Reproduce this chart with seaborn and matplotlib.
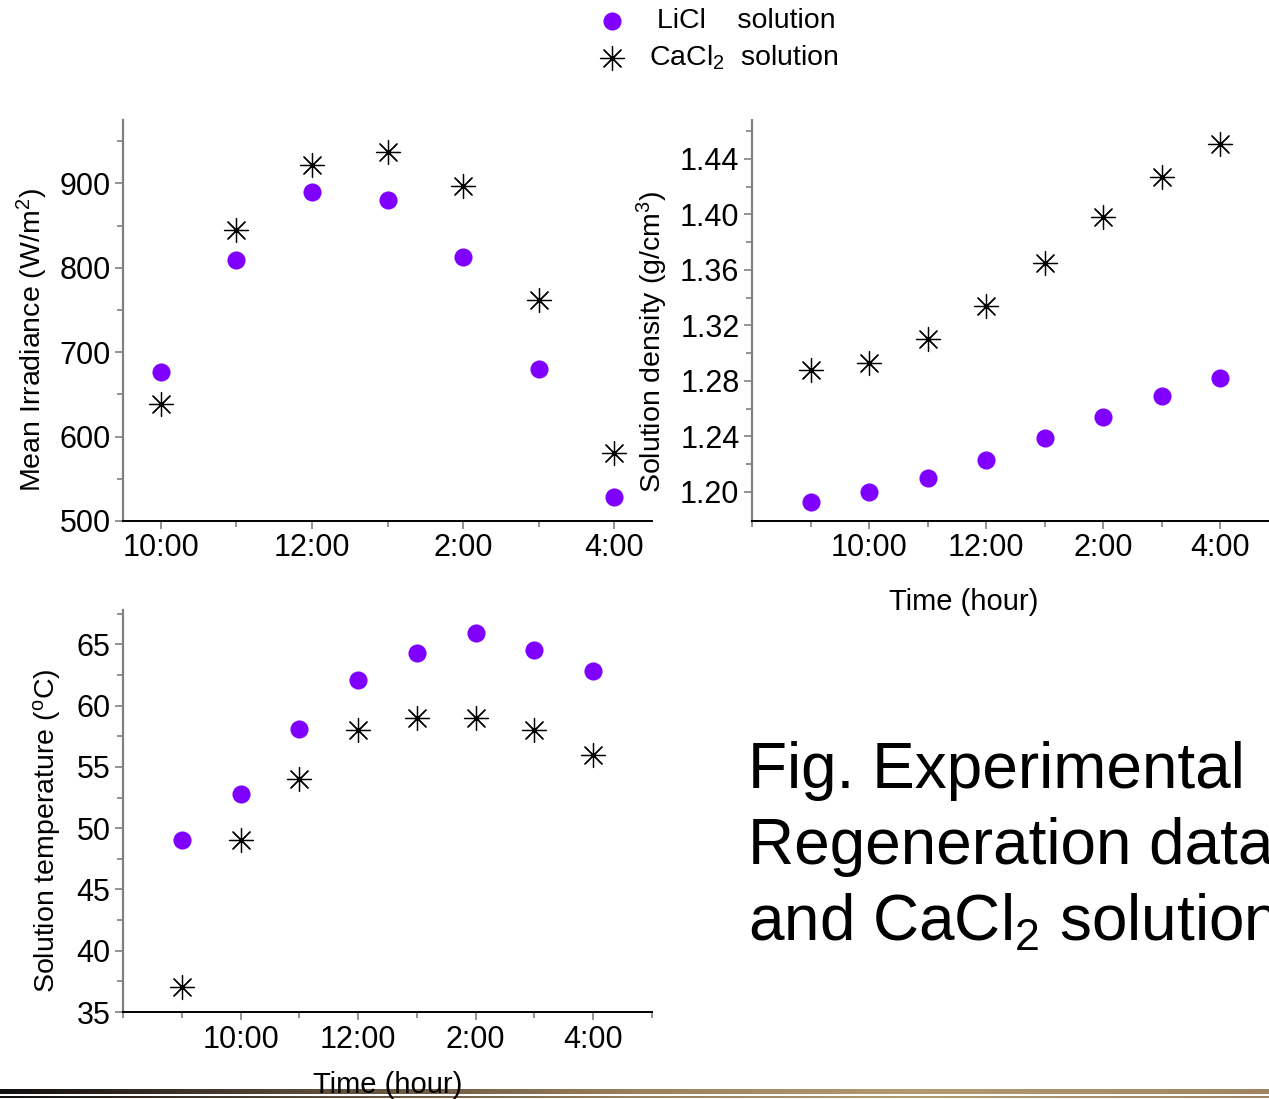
import numpy as np
import pandas as pd
import seaborn as sns
import matplotlib
matplotlib.use("Agg")
from matplotlib import pyplot as plt
from matplotlib import font_manager
from matplotlib.ticker import FixedLocator, MultipleLocator, FormatStrFormatter
from matplotlib.colors import LinearSegmentedColormap

# hours on a 24h clock, shown as 10:00 ... 4:00
irr_hours = [10, 11, 12, 13, 14, 15, 16]
irr_licl = [676, 809, 890, 880, 813, 680, 528]
irr_cacl2 = [639, 845, 922, 937, 897, 762, 580]

dens_hours = [9, 10, 11, 12, 13, 14, 15, 16]
dens_licl = [1.193, 1.200, 1.210, 1.223, 1.239, 1.254, 1.269, 1.282]
dens_cacl2 = [1.288, 1.293, 1.310, 1.334, 1.365, 1.398, 1.427, 1.451]

temp_hours = [9, 10, 11, 12, 13, 14, 15, 16]
temp_licl = [49.0, 52.8, 58.1, 62.1, 64.3, 65.9, 64.5, 62.8]
temp_cacl2 = [37, 49, 54, 58, 59, 59, 58, 56]

time_ticks = [10, 12, 14, 16]
time_labels = ["10:00", "12:00", "2:00", "4:00"]

purple = "#7f00ff"
asterisk = (8, 2, 0)

sns.set_theme(style="ticks")
plt.rcParams["font.family"] = ["Liberation Sans", "DejaVu Sans"]
plt.rcParams["mathtext.fontset"] = "custom"
plt.rcParams["mathtext.rm"] = "Liberation Sans"
plt.rcParams["mathtext.it"] = "Liberation Sans:italic"
for k in ["text.color", "axes.labelcolor", "xtick.color", "ytick.color"]:
    plt.rcParams[k] = "black"

# the original uses a condensed face for ticks; fall back to a smaller regular one
names = {f.name for f in font_manager.fontManager.ttflist}
if "Liberation Sans Narrow" in names:
    narrow, tick_size = ["Liberation Sans Narrow"], 25
else:
    narrow, tick_size = ["Liberation Sans"], 22

fig = plt.figure(figsize=(12.69, 10.99), dpi=100)
W, H = 1269, 1099


def px_axes(x0, y0, x1, y1):
    return fig.add_axes([x0 / W, 1 - y1 / H, (x1 - x0) / W, (y1 - y0) / H])


def draw(ax, hours, licl, cacl2):
    sns.scatterplot(x=hours, y=licl, ax=ax, color=purple, marker="o", s=170,
                    linewidth=0, label="LiCl", legend=False)
    sns.scatterplot(x=hours, y=cacl2, ax=ax, color="black", marker=asterisk, s=300,
                    linewidth=0.9, label="CaCl2", legend=False)


def style(ax, xlim, ylim, ymajor, yminor, xminor, fmt):
    ax.set_xlim(*xlim)
    ax.set_ylim(*ylim)
    for s in ["top", "right"]:
        ax.spines[s].set_visible(False)
    ax.spines["left"].set_color("#808080")
    ax.spines["left"].set_linewidth(1.6)
    ax.spines["bottom"].set_color("black")
    ax.spines["bottom"].set_linewidth(1.4)
    ax.xaxis.set_major_locator(FixedLocator(time_ticks))
    ax.set_xticklabels(time_labels)
    ax.xaxis.set_minor_locator(FixedLocator(xminor))
    ax.yaxis.set_major_locator(MultipleLocator(ymajor))
    ax.yaxis.set_major_formatter(FormatStrFormatter(fmt))
    ax.yaxis.set_minor_locator(FixedLocator(yminor))
    ax.tick_params(which="major", length=6, width=1.2, color="#808080", pad=3,
                   labelsize=tick_size, labelcolor="black")
    ax.tick_params(which="minor", length=4, width=1.2, color="#808080")
    ax.grid(False)
    ax.set_xlabel("")
    ax.set_ylabel("")


def fix_fonts(ax):
    for t in ax.get_xticklabels() + ax.get_yticklabels():
        t.set_family(narrow)


# top-left: irradiance
ax1 = px_axes(123, 120, 652, 521)
draw(ax1, irr_hours, irr_licl, irr_cacl2)
style(ax1, (9.5, 16.5), (500, 975), 100, np.arange(550, 1000, 100), [11, 13, 15], "%d")
ax1.set_ylabel(r"Mean Irradiance (W/m$\mathregular{^2}$)", fontsize=20.5,
               va="center", ha="center")
ax1.yaxis.set_label_coords((32 - 123) / 529, (521 - 340) / 401)

# top-right: density
ax2 = px_axes(752, 120, 1279, 521)
draw(ax2, dens_hours, dens_licl, dens_cacl2)
style(ax2, (8, 17), (1.179, 1.468), 0.04, np.arange(1.22, 1.47, 0.04),
      [8, 9, 11, 13, 15, 17], "%.2f")
ax2.set_ylabel(r"Solution density (g/cm$\mathregular{^3}$)", fontsize=20.5,
               va="center", ha="center")
ax2.yaxis.set_label_coords((652 - 752) / 527, (521 - 342) / 401)
ax2.set_xlabel("Time (hour)", fontsize=tick_size - 1, family=narrow, va="center")
ax2.xaxis.set_label_coords((964 - 752) / 527, (521 - 602) / 401)

# bottom-left: temperature
ax3 = px_axes(123, 610, 652, 1012)
draw(ax3, temp_hours, temp_licl, temp_cacl2)
style(ax3, (8, 17), (35, 67.8), 5, np.arange(37.5, 68, 5), [8, 9, 11, 13, 15, 17], "%d")
ax3.set_ylabel(r"Solution temperature ($\mathregular{^o}$C)", fontsize=20.5,
               va="center", ha="center")
ax3.yaxis.set_label_coords((47 - 123) / 529, (1012 - 831) / 402)
ax3.set_xlabel("Time (hour)", fontsize=tick_size - 1, family=narrow, va="center")
ax3.xaxis.set_label_coords((388 - 123) / 529, (1012 - 1085) / 402)

for ax in (ax1, ax2, ax3):
    fix_fonts(ax)

# legend at the top
handles = ax1.collections[:2]
fig.legend(handles, [" LiCl    solution", r"CaCl$\mathregular{_2}$  solution"],
           loc="upper left", bbox_to_anchor=(598 / W, 1 - 8 / H), frameon=False,
           fontsize=20.5, handlelength=1.0, handletextpad=0.8, labelspacing=0.32,
           borderpad=0, borderaxespad=0)

# caption on the right (cut by the right edge, as in the original slide)
fig.text(748 / W, 1 - 741 / H,
         "Fig. Experimental\nRegeneration data\nand CaCl$\\mathregular{_2}$ solution",
         fontsize=46, va="top", ha="left", linespacing=1.33, color="black")

# decorative bar at the bottom
bar = fig.add_axes([0, 0, 1, 14 / H], zorder=-1)
cmap = LinearSegmentedColormap.from_list(
    "bar", [(0, "#121010"), (0.24, "#5a4a38"), (0.5, "#9a805c"),
            (0.72, "#b39a70"), (1.0, "#a08462")])
grad = np.linspace(0, 1, 512)[None, :]
bar.imshow(grad, aspect="auto", cmap=cmap, extent=(0, 1, 4.5, 9))
bar.imshow(grad, aspect="auto", cmap=cmap, extent=(0, 1, 0.8, 2.2))
bar.set_xlim(0, 1)
bar.set_ylim(0, 14)
bar.axis("off")

fig.savefig("out.png", dpi=100)
